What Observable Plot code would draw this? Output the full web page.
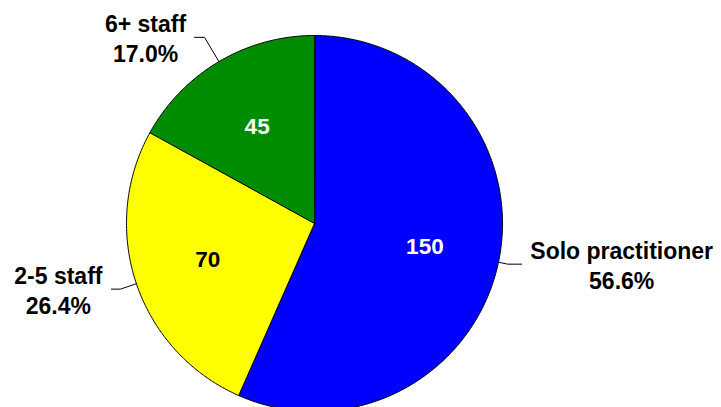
<!DOCTYPE html>
<html><head><meta charset="utf-8">
<script src="https://cdn.jsdelivr.net/npm/d3@7"></script>
<script src="https://cdn.jsdelivr.net/npm/@observablehq/plot@0.6"></script>
<style>html,body{margin:0;padding:0;background:#fff;overflow:hidden}</style>
</head><body><div id="chart"></div>
<script>
// ---- data ----
const categories = ["Solo practitioner", "2-5 staff", "6+ staff"];
const counts = [150, 70, 45];
const percentLabels = ["56.6%", "26.4%", "17.0%"];

// ---- styles / layout ----
const sliceColors = ["#0000ff", "#ffff00", "#008c00"];
const valueColors = ["#ffffff", "#000000", "#ffffff"];
const W = 721, H = 407, R = 188, CX = 314, CY = 223;
const leaderOut = [1.05, 1.09, 1.15];   // elbow radius (in radii)
const leaderRun = [14, -9, -10];        // horizontal run (px)
const labelShift = [100, -53, -49];     // label centre from leader end (px)
const FONT = "'Liberation Sans', Arial, sans-serif";

const rows = categories.map((c, i) => ({c, v: counts[i], p: percentLabels[i], i}));
const arcs = d3.pie().sort(null).value(d => d.v).startAngle(0).endAngle(2 * Math.PI)(rows);

const slicePts = [];
const leaderPts = [];
const valueLbl = [];
const catLbl = [];
arcs.forEach(a => {
  const i = a.data.i;
  slicePts.push({x: 0, y: 0, k: i, fill: sliceColors[i]});
  const n = Math.max(2, Math.ceil((a.endAngle - a.startAngle) / (Math.PI / 360)));
  for (let j = 0; j <= n; j++) {
    const t = a.startAngle + (a.endAngle - a.startAngle) * j / n;
    slicePts.push({x: Math.sin(t), y: Math.cos(t), k: i, fill: sliceColors[i]});
  }
  const m = (a.startAngle + a.endAngle) / 2;
  valueLbl.push({x: 0.6 * Math.sin(m), y: 0.6 * Math.cos(m), t: String(a.data.v), fill: valueColors[i]});
  const ex = leaderOut[i] * Math.sin(m), ey = leaderOut[i] * Math.cos(m);
  const endX = ex + leaderRun[i] / R;
  leaderPts.push({x: Math.sin(m), y: Math.cos(m), k: i});
  leaderPts.push({x: ex, y: ey, k: i});
  leaderPts.push({x: endX, y: ey, k: i});
  catLbl.push({x: endX + labelShift[i] / R, y: ey, t: a.data.c + "\n" + a.data.p});
});

const chart = Plot.plot({
  width: W, height: H,
  margin: 0,
  style: {overflow: "hidden", background: "#fff"},
  x: {domain: [-CX / R, (W - CX) / R], axis: null},
  y: {domain: [-(H - CY) / R, CY / R], axis: null},
  color: {type: "identity"},
  marks: [
    Plot.line(slicePts, {x: "x", y: "y", z: "k", fill: "fill", stroke: "#000", strokeWidth: 1, curve: "linear-closed"}),
    Plot.line(leaderPts, {x: "x", y: "y", z: "k", stroke: "#000", strokeWidth: 1}),
    Plot.text(valueLbl, {x: "x", y: "y", text: "t", fill: "fill", fontSize: 22.5, fontWeight: "bold", fontFamily: FONT}),
    Plot.text(catLbl, {x: "x", y: "y", text: "t", fill: "#000", fontSize: 23, fontWeight: "bold", fontFamily: FONT, lineHeight: 1.3, textAnchor: "middle", lineAnchor: "middle"})
  ]
});
document.getElementById("chart").appendChild(chart);
</script>
</body></html>
